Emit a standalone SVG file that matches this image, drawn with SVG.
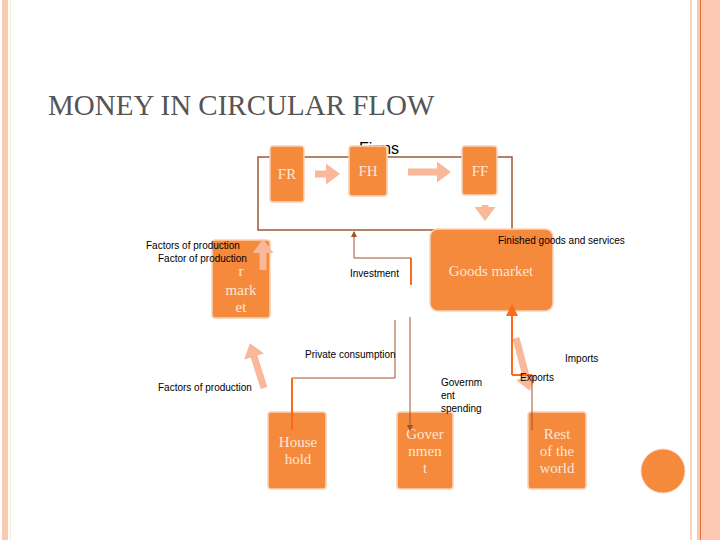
<svg xmlns="http://www.w3.org/2000/svg" width="720" height="540" viewBox="0 0 720 540">
<style>
.n{fill:#f58a3c;stroke:#fbd2b5;stroke-width:1.5}
.nt{font-family:"Liberation Serif",serif;font-size:15px;fill:#fde6d6;text-anchor:middle}
.l{font-family:"Liberation Sans",sans-serif;font-size:10px;fill:#000}
.c{fill:none;stroke:#a0522d;stroke-width:1}
.o{fill:none;stroke:#ff6a1a;stroke-width:2}
.fa{stroke:#f9b89a;stroke-width:7;fill:none}
</style>
<defs>
<marker id="a" markerWidth="6" markerHeight="6" refX="5" refY="3" orient="auto"><path d="M0,0L6,3L0,6z" fill="#a0522d"/></marker>
<marker id="ao" markerWidth="6" markerHeight="6" refX="5" refY="3" orient="auto"><path d="M0,0L6,3L0,6z" fill="#ff6a1a"/></marker>
<marker id="f" markerWidth="3" markerHeight="3" refX="1" refY="1.5" orient="auto"><path d="M0,0L2,1.5L0,3z" fill="#f9b89a"/></marker>
</defs>
<rect width="720" height="540" fill="#fff"/>
<rect x="2" y="0" width="6" height="540" fill="#f9c9b2"/>
<rect x="10" y="0" width="1" height="540" fill="#f5ecd6"/>
<rect x="690" y="0" width="2" height="540" fill="#f5d6c6"/>
<rect x="697" y="0" width="3" height="540" fill="#f5c9b2"/>
<rect x="700" y="0" width="1" height="540" fill="#e8703c"/>
<rect x="701" y="0" width="19" height="540" fill="#fdc9b2"/>
<text x="48" y="115" font-family="Liberation Serif,serif" font-size="29" fill="#555">MONEY IN CIRCULAR FLOW</text>
<g id="firms">
<rect x="258" y="157" width="254" height="73" fill="none" stroke="#9c5a32" stroke-width="1.5"/>
<text x="379" y="154" font-family="Liberation Sans,sans-serif" font-size="16" text-anchor="middle">Firms</text>
</g>
<g id="fr"><rect class="n" x="270" y="146" width="34" height="56" rx="3"/><text class="nt" x="287" y="179">FR</text></g>
<g id="fh"><rect class="n" x="349" y="146" width="38" height="50" rx="3"/><text class="nt" x="368" y="176">FH</text></g>
<g id="ff"><rect class="n" x="462" y="146" width="35" height="49" rx="3"/><text class="nt" x="480" y="176">FF</text></g>
<g id="goods"><rect class="n" x="430" y="229" width="123" height="82" rx="8"/><text class="nt" x="491" y="276">Goods market</text></g>
<g id="factor"><rect class="n" x="212" y="240" width="58" height="78" rx="3"/><text class="nt" x="241" y="276">r</text><text class="nt" x="241" y="295">mark</text><text class="nt" x="241" y="312">et</text></g>
<g id="household"><rect class="n" x="268" y="412" width="58" height="77" rx="3"/><text class="nt" x="298" y="447">House</text><text class="nt" x="298" y="464">hold</text></g>
<g id="government"><rect class="n" x="397" y="412" width="56" height="77" rx="3"/><text class="nt" x="425" y="439">Gover</text><text class="nt" x="425" y="456">nmen</text><text class="nt" x="425" y="473">t</text></g>
<g id="rest"><rect class="n" x="528" y="412" width="58" height="77" rx="3"/><text class="nt" x="557" y="439">Rest</text><text class="nt" x="557" y="456">of the</text><text class="nt" x="557" y="473">world</text></g>
<circle cx="663" cy="471" r="22" fill="#f58a3c" stroke="#fbd2b5"/>
<g id="connectors">
<path class="fa" d="M315,174H333" marker-end="url(#f)"/>
<path class="fa" d="M408,172H444" marker-end="url(#f)"/>
<path class="fa" d="M485,205V214" marker-end="url(#f)"/>
<path class="fa" d="M263,270V246" marker-end="url(#f)"/>
<path class="fa" d="M264,388L252,350" marker-end="url(#f)"/>
<path class="fa" d="M516,338L528,384" marker-end="url(#f)"/>
<path class="o" d="M411,285V258"/>
<path class="c" d="M411,258H354V232" marker-end="url(#a)"/>
<path class="c" d="M395,320V378H292"/>
<path class="o" d="M292,378V430"/>
<path class="c" d="M410,317V430" marker-end="url(#a)"/>
<path class="o" d="M512,375V306" marker-end="url(#ao)"/>
<path class="o" d="M512,375H532"/>
<path class="c" d="M532,375V430"/>
</g>
<g id="labels">
<text class="l" x="146" y="249">Factors of production</text>
<text class="l" x="158" y="262">Factor of production</text>
<text class="l" x="498" y="244">Finished goods and services</text>
<text class="l" x="350" y="277">Investment</text>
<text class="l" x="305" y="358">Private consumption</text>
<text class="l" x="565" y="362">Imports</text>
<text class="l" x="520" y="381">Exports</text>
<text class="l" x="158" y="391">Factors of production</text>
<text class="l" x="441" y="386">Governm</text>
<text class="l" x="441" y="399">ent</text>
<text class="l" x="441" y="412">spending</text>
</g>
</svg>
